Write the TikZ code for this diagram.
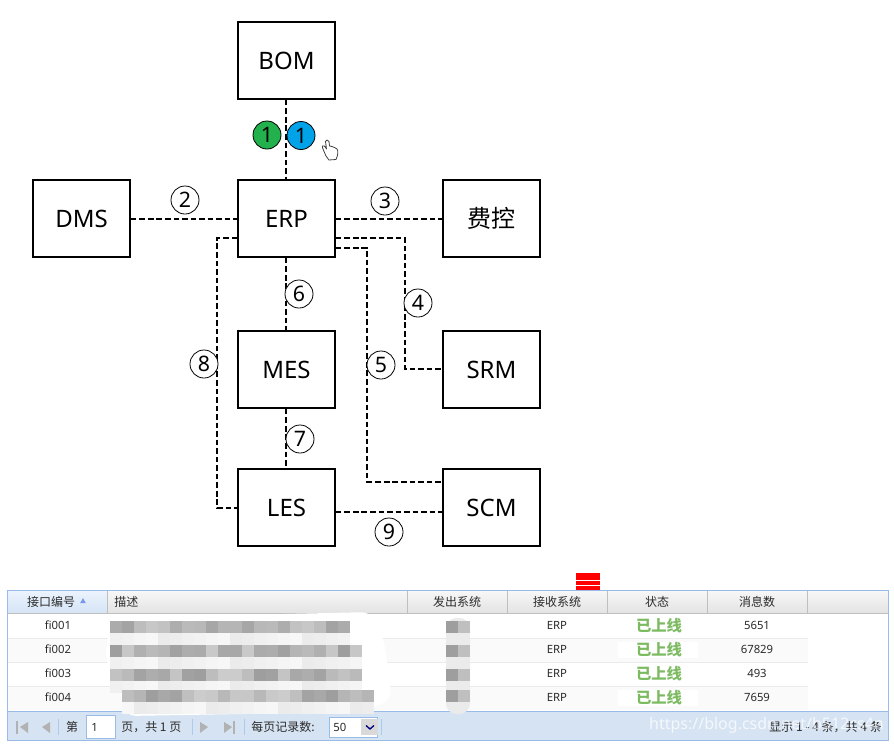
\documentclass[tikz,border=0pt]{standalone}
\usepackage{fontspec}
\setmainfont{Noto Sans}
\newfontfamily\cjk{Noto Sans CJK SC}
\usetikzlibrary{calc,shapes.geometric}
\definecolor{gridblue}{HTML}{99BBE8}
\definecolor{barblue}{HTML}{D6E3F2}
\definecolor{hdrtop}{HTML}{F7F7F7}
\definecolor{hdrbot}{HTML}{E4E3E3}
\definecolor{sorttop}{HTML}{EBF3FD}
\definecolor{sortbot}{HTML}{D5E4F6}
\definecolor{onlinegreen}{HTML}{7DBB62}
\definecolor{celldark}{HTML}{2B2B2B}
\definecolor{dotgreen}{HTML}{22B14C}
\definecolor{dotblue}{HTML}{00A2E8}
\tikzset{
  x=0.75pt,y=-0.75pt,
  sysbox/.style={draw=black,line width=1.5pt,minimum width=72.5pt,minimum height=57.5pt,inner sep=0pt,font=\fontsize{18}{20}\selectfont},
  link/.style={draw=black,line width=1.5pt,dash pattern=on 4.2pt off 2.2pt},
  num/.style={circle,draw=black,line width=0.6pt,minimum size=21pt,inner sep=0pt,font=\fontsize{16}{18}\selectfont,fill=white},
  hdr/.style={font=\cjk\fontsize{9}{10}\selectfont,text=celldark,inner sep=0pt},
  cell/.style={font=\fontsize{8.5}{10}\selectfont,text=celldark,inner sep=0pt},
  pgtext/.style={font=\cjk\fontsize{9}{10}\selectfont,text=celldark,inner sep=0pt},
  live/.style={font=\cjk\bfseries\fontsize{11.5}{12}\selectfont,text=onlinegreen,inner sep=0pt},
  sep/.style={draw=black!25,line width=0.6pt},
  pager/.style={draw=gridblue!80,line width=0.6pt}
}
\begin{document}
\begin{tikzpicture}
\useasboundingbox (0,0) rectangle (894,744);
\fill[white] (0,0) rectangle (894,744);
% boxes
\node[sysbox] (bom) at (286.5,60.5) {BOM};
\node[sysbox] (erp) at (286.5,218.5) {ERP};
\node[sysbox] (dms) at (81.5,218.5) {DMS};
\node[sysbox,font=\cjk\fontsize{18}{20}\selectfont] (fk) at (491.5,218.5) {费控};
\node[sysbox] (mes) at (286.5,369.5) {MES};
\node[sysbox] (srm) at (491.5,369.5) {SRM};
\node[sysbox] (les) at (286.5,507.5) {LES};
\node[sysbox] (scm) at (491.5,507.5) {SCM};
% connectors
\draw[link] ($(bom.south)+(-.5,0)$) -- ($(erp.north)+(-.5,0)$);
\draw[link] ($(dms.east)+(0,.5)$) -- ($(erp.west)+(0,.5)$);
\draw[link] ($(erp.east)+(0,.5)$) -- ($(fk.west)+(0,.5)$);
\draw[link] ($(erp.south)+(-.5,0)$) -- ($(mes.north)+(-.5,0)$);
\draw[link] ($(mes.south)+(-.5,0)$) -- ($(les.north)+(-.5,0)$);
\coordinate (e4) at ($(erp.east)+(0,19.5)$);
\coordinate (c4) at (405,238);
\coordinate (s4) at ($(srm.west)+(0,-.5)$);
\draw[link] (e4) -- (c4) -- (c4 |- s4) -- (s4);
\coordinate (e5) at ($(erp.east)+(0,29.5)$);
\coordinate (c5) at (367,248);
\coordinate (s5) at ($(scm.west)+(0,-26)$);
\draw[link] (e5) -- (c5) -- (c5 |- s5) -- (s5);
\coordinate (e8) at ($(erp.west)+(0,19.5)$);
\coordinate (c8) at (217,238);
\coordinate (l8) at ($(les.west)+(0,.5)$);
\draw[link] (e8) -- (c8) -- (c8 |- l8) -- (l8);
\coordinate (l9) at ($(les.east)+(0,4.5)$);
\coordinate (s9) at ($(scm.west)+(0,4.5)$);
\draw[link] (l9) -- (s9);
% numbers
\node[num,fill=none] (n2) at (185,200) {2};
\node[num,fill=none] (n3) at (385,201) {3};
\node[num] (n4) at (418,303) {4};
\node[num] (n5) at (381,365) {5};
\node[num] (n6) at (299,294) {6};
\node[num] (n7) at (300,439) {7};
\node[num] (n8) at (204,364) {8};
\node[num,fill=none] (n9) at (389,532) {9};
\node[num,fill=dotgreen] (g1) at (267,135) {1};
\node[num,fill=dotblue] (b1) at (301,135.5) {1};
% hand cursor
\draw[black!75,line width=0.6pt,fill=white,line join=round]
 (326,156) .. controls (324,151) and (322,148) .. (322.5,146) .. controls (323.5,145) and (325,146) .. (326.5,149) -- (325.5,141.5)
 .. controls (325.5,139.5) and (328.5,139.5) .. (329,141.5) -- (329.5,146) -- (332,146.5) -- (334.5,147.5) -- (337,149)
 .. controls (338.5,151) and (338,155) .. (336,159.5) -- (329,160) -- cycle;
% grid
\fill[white] (7,590) rectangle (888,741);
\shade[top color=hdrtop,bottom color=hdrbot] (8,591) rectangle (888,613);
\shade[top color=sorttop,bottom color=sortbot] (8,591) rectangle (107,613);
\fill[black!2] (8,638) rectangle (808,662);
\fill[black!2] (8,686) rectangle (808,710);
\foreach \yy in {638,662,686} {\draw[black!8,line width=0.6pt] (8,\yy) -- (808,\yy);}
\draw[black!25,line width=0.6pt] (8,613.5) -- (888,613.5);
\foreach \xx in {107.5,407.5,507.5,607.5,707.5,807.5} {\draw[sep] (\xx,591) -- (\xx,613);}
\fill[barblue] (8,711) rectangle (888,740);
\draw[gridblue,line width=0.75pt] (7.5,590.5) rectangle (888,740.5);
\draw[gridblue,line width=0.75pt] (8,711) -- (888,711);
% header
\node[hdr] (h1) at (51,601.5) {接口编号};
\node[regular polygon,regular polygon sides=3,fill=gridblue!80!blue,inner sep=0pt,minimum size=5pt] (sorttip) at (83,601.5) {};
\node[hdr,anchor=west] (h2) at (114,601.5) {描述};
\node[hdr] (h3) at (457,601.5) {发出系统};
\node[hdr] (h4) at (557,601.5) {接收系统};
\node[hdr] (h5) at (657,601.5) {状态};
\node[hdr] (h6) at (757,601.5) {消息数};
% rows
\fill[white] (618,642) rectangle (698,658);
\fill[white] (618,690) rectangle (698,706);
\foreach \yy/\ida/\nn in {625.5/fi001/5651,649.5/fi002/67829,673.5/fi003/493,697.5/fi004/7659} {
  \node[cell] at (58,\yy) {\ida};
  \node[cell] at (557,\yy) {ERP};
  \node[live] at (659,\yy) {已上线};
  \node[cell] at (757,\yy) {\nn};
}
% blurred cells
\fill[white,rounded corners=8pt] (110,618) -- (372,612) -- (384,640) -- (392,700) -- (360,712) -- (125,716) -- (122,695) -- (105,660) -- cycle;
\foreach \yy/\xa/\xb in {621/110/350,645/110/362,669/110/362,690/122/374} {
  \foreach \xi in {0,...,20} {
    \pgfmathtruncatemacro\gvd{20+mod(\xi*\xi*3+\yy,19)}
    \pgfmathtruncatemacro\gvl{3+mod(\xi*5+\yy,6)}
    \pgfmathsetmacro\xp{\xa+12*\xi}
    \ifdim\xp pt<\xb pt
      \fill[black!\gvd] (\xp,\yy) rectangle (\xp+12,\yy+12);
      \fill[black!\gvl] (\xp,\yy+12) rectangle (\xp+12,\yy+24);
    \fi
  }
}
\fill[black!8,rounded corners=8pt] (446,618) rectangle (470,714);
\foreach \yy in {621,645,669,690} {
  \fill[black!38] (446,\yy) rectangle (458,\yy+12);
  \fill[black!25] (458,\yy) rectangle (470,\yy+12);
}
% red mark
\fill[red] (576,573) rectangle (600,580);
\fill[red] (576,581) rectangle (600,585);
\fill[red] (576,586) rectangle (600,590);
% pager
\node[pgtext] (p1) at (72,727) {第};
\node[draw=gridblue,fill=white,minimum width=22pt,minimum height=17pt,inner sep=0pt,anchor=west] (pg) at (86,727) {};
\node[cell,anchor=west] (pgv) at (91,727) {1};
\node[pgtext,anchor=west] (p2) at (121,727) {页，共 1 页};
\node[pgtext,anchor=west] (p3) at (251,727) {每页记录数:};
\node[draw=gridblue,fill=white,minimum width=36pt,minimum height=15pt,inner sep=0pt,anchor=west] (sel) at (329,727) {};
\node[cell,anchor=west] (selv) at (333,727) {50};
\fill[black!15] (361,719) rectangle (378,735);
\draw[blue!50!black,line width=1pt] (366,725.5) -- (370,729) -- (374,725.5);
\foreach \xx in {58,192,244,381} {\draw[pager] (\xx,719) -- (\xx,735);}
\foreach \xa/\sgn in {24/1,46/1,204/-1,228/-1} {
  \fill[black!30] (\xa-\sgn*4,727) -- (\xa+\sgn*4,722) -- (\xa+\sgn*4,733) -- cycle;
}
\fill[black!30] (16,721) rectangle (18,734);
\fill[black!30] (233,721) rectangle (235,734);
\node[pgtext,anchor=east] (p4) at (882,727) {显示 1 - 4 条，共 4 条};
\node[font=\fontsize{12}{13}\selectfont,text=white,opacity=.75,anchor=east,inner sep=0pt] (wm) at (884,725) {https://blog.csdn.net/b512cs4n};
\end{tikzpicture}
\end{document}
